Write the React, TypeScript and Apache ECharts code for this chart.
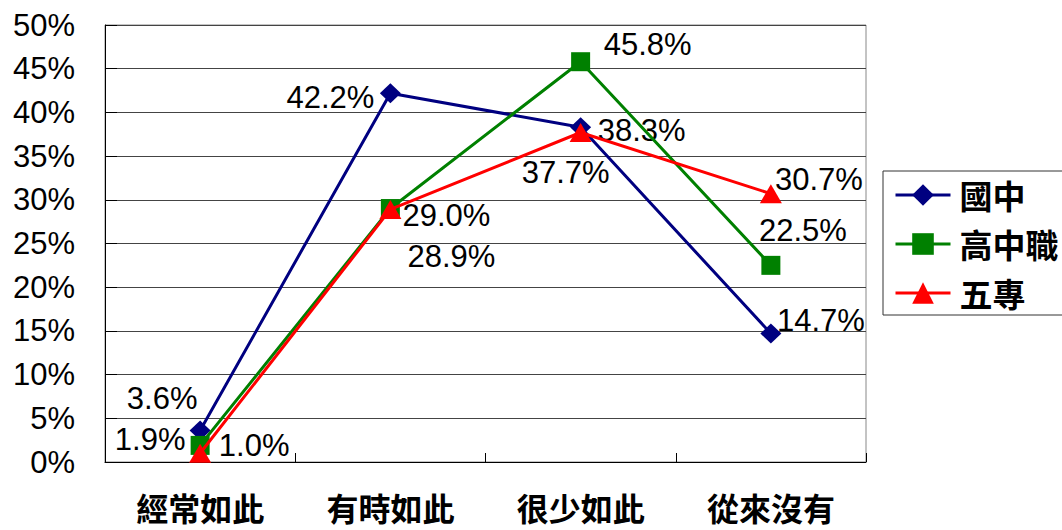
import React, { useEffect, useRef } from "react";
import * as echarts from "echarts";

const categories = ["經常如此", "有時如此", "很少如此", "從來沒有"];
const seriesNames = ["國中", "高中職", "五專"];
const juniorHigh = [3.6, 42.2, 38.3, 14.7];
const seniorVocational = [1.9, 29.0, 45.8, 22.5];
const juniorCollege = [1.0, 28.9, 37.7, 30.7];
const yTicks = { min: 0, max: 50, interval: 5 };

// label offsets (px) relative to each point, per series
const labelOffsets = [
  [[-38, -32], [-60, 4], [61, 3], [50, -13]],
  [[-50, -6], [56, 7], [67, -17], [32, -35]],
  [[54, -8], [61, 47], [-15, 40], [48, -14]],
];

const colors = ["#000080", "#008000", "#ff0000"];
const symbols = ["diamond", "rect", "triangle"];
const symbolSizes: any[] = [[21, 20], [19, 19], [22, 19]];

const NUM_FONT = "'Liberation Sans', Arial, sans-serif";
const CJK_FONT = "'Noto Sans CJK TC', 'Noto Sans CJK SC', sans-serif";

export default function App() {
  const ref = useRef<HTMLDivElement>(null);
  useEffect(() => {
    if (!ref.current) return;
    const chart = echarts.init(ref.current, null, { renderer: "svg" });
    const allData = [juniorHigh, seniorVocational, juniorCollege];
    const series = allData.map((vals, si) => ({
      name: seriesNames[si],
      type: "line",
      data: vals.map((v, i) => ({
        value: v,
        label: { offset: labelOffsets[si][i] },
      })),
      symbol: symbols[si],
      symbolSize: symbolSizes[si],
      lineStyle: { color: colors[si], width: 3 },
      itemStyle: { color: colors[si] },
      label: {
        show: true,
        position: "inside",
        align: "center",
        verticalAlign: "middle",
        color: "#000",
        fontSize: 31,
        fontFamily: NUM_FONT,
        textBorderWidth: 0,
        formatter: (p: any) => Number(p.value).toFixed(1) + "%",
      },
      emphasis: { disabled: true },
      z: 2 + si,
    }));
    chart.setOption({
      animation: false,
      backgroundColor: "#fff",
      grid: {
        left: 105,
        right: 196,
        top: 25,
        bottom: 68,
        show: true,
        borderColor: "#888",
        borderWidth: 1,
      },
      legend: {
        orient: "vertical",
        left: 883,
        top: 171,
        padding: [7, 30, 5, 11],
        itemWidth: 55,
        itemHeight: 27,
        itemGap: 15,
        borderColor: "#333",
        borderWidth: 1,
        lineStyle: { width: 3 },
        textStyle: {
          fontSize: 33,
          lineHeight: 34,
          fontWeight: "bold",
          fontFamily: CJK_FONT,
          color: "#000",
          padding: [0, 0, 0, 4],
        },
        data: seriesNames,
      },
      xAxis: {
        type: "category",
        data: categories,
        boundaryGap: true,
        axisLine: { lineStyle: { color: "#000", width: 1 } },
        axisTick: { show: true, inside: true, length: 9, lineStyle: { color: "#000" } },
        axisLabel: {
          fontSize: 32,
          lineHeight: 30,
          fontWeight: "bold",
          fontFamily: CJK_FONT,
          color: "#000",
          margin: 30,
        },
        splitLine: { show: false },
      },
      yAxis: {
        type: "value",
        min: yTicks.min,
        max: yTicks.max,
        interval: yTicks.interval,
        axisLine: { show: true, lineStyle: { color: "#000", width: 1 } },
        axisTick: { show: true, inside: true, length: 12, lineStyle: { color: "#000" } },
        axisLabel: {
          formatter: "{value}%",
          fontSize: 31,
          fontFamily: NUM_FONT,
          color: "#000",
          margin: 30,
        },
        splitLine: { show: true, lineStyle: { color: "#444", width: 1 } },
      },
      series,
    });
    return () => chart.dispose();
  }, []);
  return (
    <div
      ref={ref}
      style={{ position: "fixed", left: 0, top: 0, width: 1062, height: 530 }}
    />
  );
}
